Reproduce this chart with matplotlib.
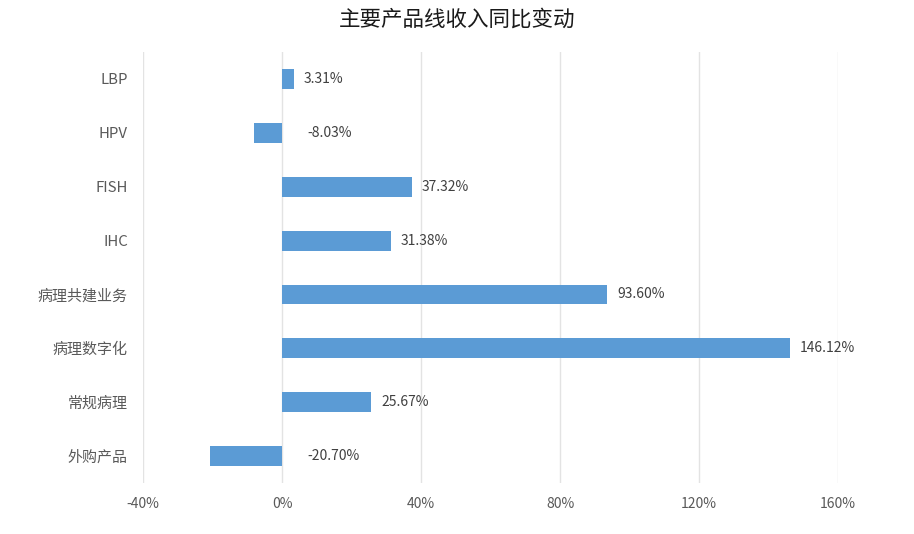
import matplotlib
matplotlib.use('Agg')
import matplotlib.pyplot as plt
from matplotlib.ticker import FuncFormatter

categories = ['LBP', 'HPV', 'FISH', 'IHC', '病理共建业务', '病理数字化', '常规病理', '外购产品']
growth = [3.31, -8.03, 37.32, 31.38, 93.60, 146.12, 25.67, -20.70]
xticks = [-40, 0, 40, 80, 120, 160]

plt.rcParams['font.family'] = ['Noto Sans CJK SC', 'DejaVu Sans']

fig = plt.figure(figsize=(9.14, 5.34), dpi=100)
ax = fig.add_axes([0.1565, 0.0955, 0.7605, 0.807])

ypos = list(range(len(categories)))
ax.barh(ypos, growth, height=0.37, color='#5B9BD5', zorder=3)

for y, v in zip(ypos, growth):
    if v >= 0:
        ax.annotate(f'{v:.2f}%', (v, y), xytext=(7, 0), textcoords='offset points',
                    va='center', ha='left', fontsize=10, color='#404040')
    else:
        ax.annotate(f'{v:.2f}%', (0, y), xytext=(18, 0), textcoords='offset points',
                    va='center', ha='left', fontsize=10, color='#404040')

ax.set_xlim(-40, 160)
ax.set_ylim(len(categories) - 0.5, -0.5)
ax.set_xticks(xticks)
ax.xaxis.set_major_formatter(FuncFormatter(lambda x, p: f'{x:.0f}%'))
ax.set_yticks(ypos)
ax.set_yticklabels(categories)
ax.tick_params(axis='both', length=0, labelsize=10, colors='#595959')
ax.tick_params(axis='y', labelsize=10.8, pad=11)
ax.tick_params(axis='x', pad=10)
ax.grid(axis='x', color='#e3e3e3', linewidth=1, zorder=0)
for s in ax.spines.values():
    s.set_visible(False)

fig.text(0.5, 1 - 20 / 534, '主要产品线收入同比变动', ha='center', va='center',
         fontsize=15.5, color='#1a1a1a')

fig.savefig('out.png', dpi=100)
